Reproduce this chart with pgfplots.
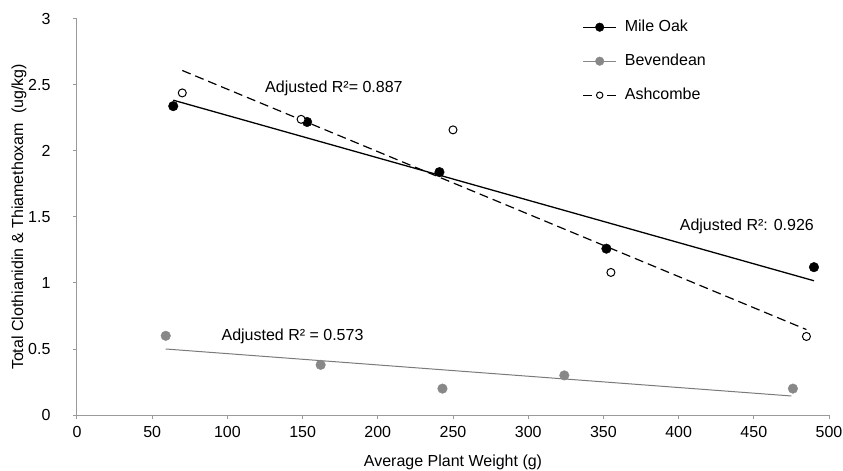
\documentclass[border=0pt]{standalone}
\usepackage{pgfplots}
\pgfplotsset{compat=1.18}
\usepackage{fontspec}
\setmainfont{Liberation Sans}

\definecolor{bevgray}{HTML}{888888}
\definecolor{axgray}{HTML}{9A9A9A}

\begin{document}
\begin{tikzpicture}
\fontsize{16pt}{19pt}\selectfont
% fix the page to the reference proportions (axis box sits at the origin)
\useasboundingbox (-77pt,-56pt) rectangle (766pt,415pt);
\begin{axis}[
    scale only axis,
    width=752pt, height=396pt,
    xmin=0, xmax=500,
    ymin=0, ymax=3,
    xtick={0,50,...,500},
    ytick={0,0.5,...,3},
    axis x line=bottom,
    axis y line=left,
    axis line style={axgray, line width=1pt, -},
    tick style={axgray, line width=1pt},
    tick align=outside,
    major tick length=4pt,
    /pgf/number format/assume math mode=true,
    ticklabel style={font=\fontsize{16pt}{19pt}\selectfont},
    xticklabel style={yshift=-2pt},
    yticklabel style={xshift=-17pt},
    xlabel={Average Plant Weight (g)},
    ylabel={Total Clothianidin \& Thiamethoxam\ \ (ug/kg)},
    label style={font=\fontsize{16pt}{19pt}\selectfont},
    xlabel style={at={(axis description cs:0.5,-0.1187)}, anchor=center},
    ylabel style={at={(axis description cs:-0.0771,0.5)}, anchor=center},
    legend style={draw=none, fill=none, inner sep=0pt,
        at={(axis cs:336,3.0)}, anchor=north west,
        font=\fontsize{16pt}{19pt}\selectfont,
        nodes={inner sep=0pt, text height=12pt, text depth=4pt},
        row sep=18pt},
    legend cell align=left,
    /tikz/every odd column/.append style={column sep=8pt},
    clip=false,
]

% Mile Oak
\addplot[only marks, mark=*, mark size=4.8pt, black, forget plot]
    coordinates {(64,2.34) (153,2.22) (241,1.84) (352,1.26) (490,1.12)};
\addplot[black, line width=1.3pt, forget plot]
    coordinates {(64,2.385) (490,1.017)};

% Bevendean
\addplot[only marks, mark=*, mark size=4.8pt, bevgray, forget plot]
    coordinates {(59,0.60) (162,0.38) (243,0.20) (324,0.30) (476,0.20)};
\addplot[bevgray!90!black, line width=1pt, forget plot]
    coordinates {(59,0.50) (475,0.144)};

% Ashcombe
\addplot[only marks, mark=*, mark size=4pt, black, fill=white,
    mark options={line width=1pt}, forget plot]
    coordinates {(70,2.44) (149,2.24) (250,2.16) (355,1.08) (485,0.595)};
\addplot[black, line width=1.2pt, dash pattern=on 9pt off 5pt, forget plot]
    coordinates {(70,2.61) (485,0.647)};

\addlegendimage{legend image code/.code={
    \draw[black, line width=1.3pt] (0pt,0pt) -- (33pt,0pt);
    \fill[black] (16.5pt,0pt) circle (4.3pt);}}
\addlegendentry{Mile Oak}
\addlegendimage{legend image code/.code={
    \draw[bevgray, line width=1.1pt] (0pt,0pt) -- (33pt,0pt);
    \fill[bevgray] (16.5pt,0pt) circle (4.3pt);}}
\addlegendentry{Bevendean}
\addlegendimage{legend image code/.code={
    \draw[black, line width=1.2pt] (0pt,0pt) -- (9pt,0pt) (24pt,0pt) -- (33pt,0pt);
    \draw[black, fill=white, line width=1pt] (16.5pt,0pt) circle (3.2pt);}}
\addlegendentry{Ashcombe}

\node[anchor=west, inner sep=0pt] at (axis cs:125,2.477) {Adjusted R²= 0.887};
\node[anchor=west, inner sep=0pt] at (axis cs:400.7,1.426) {Adjusted R²: 0.926};
\node[anchor=west, inner sep=0pt] at (axis cs:96,0.593) {Adjusted R² = 0.573};
\end{axis}
\end{tikzpicture}
\end{document}
